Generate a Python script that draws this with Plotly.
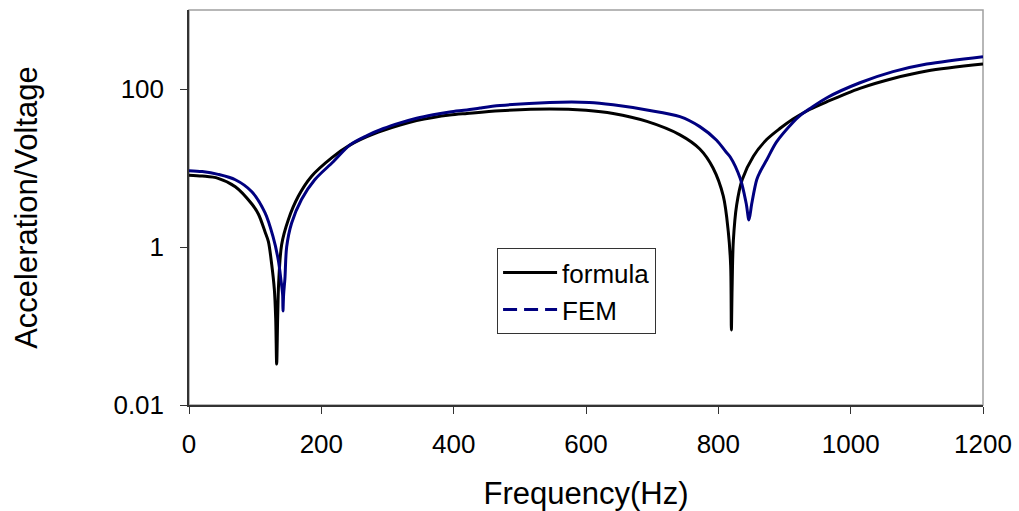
import plotly.graph_objects as go

# Frequency response: acceleration per unit voltage (log scale)
formula_freq = [0, 20, 44, 70, 95, 105, 115, 120, 125, 129, 131, 132.5, 134, 135.5,
                140, 150, 165, 185, 216, 243, 269, 294, 319, 344, 369, 394, 420,
                470, 545, 600, 641, 692, 742, 772, 792, 807.5, 815, 818.6, 819.7,
                820.8, 822.7, 827.7, 836, 853, 873, 893, 913, 938, 964, 1014, 1064,
                1115, 1200]
formula_val = [8.1, 7.9, 7.4, 5.8, 3.5, 2.6, 1.55, 1.17, 0.60, 0.29, 0.126, 0.033,
               0.126, 0.35, 1.07, 2.2, 4.35, 7.8, 13.5, 19.5, 25, 30, 35, 39.8, 43.7,
               46.8, 49, 53, 55.8, 53.7, 49, 38.9, 26.3, 17.4, 10, 4.4, 1.58, 0.59,
               0.089, 0.30, 1.2, 3.4, 7.1, 14.1, 22.9, 31.6, 41.7, 55, 69, 102, 136,
               169, 207]

fem_freq = [0, 20, 44, 70, 95, 115, 127, 135, 139, 141.5, 142, 143, 145,
            147.6, 155, 170, 190, 218, 243, 269, 294, 319, 344, 369, 394, 420, 440,
            470, 545, 605, 641, 692, 742, 772, 797, 812, 818, 833, 842, 846.3, 850.4,
            858, 863, 873, 888, 913, 923, 938, 964, 1014, 1064, 1115, 1200]
fem_val = [9.25, 9.0, 8.3, 7.1, 5.0, 2.7, 1.35, 0.68, 0.38, 0.25, 0.155, 0.25,
           0.40, 1.0, 2.0, 4.0, 7.1, 12.0, 19.5, 25.7, 31.6, 37.2, 42.7, 47.3, 51.3,
           54.3, 57.5, 61.7, 67.6, 67.6, 63.1, 54.3, 44.7, 33.4, 22.6, 15.8, 13.8,
           7.4, 3.6, 2.2, 3.5, 7.1, 8.9, 12.6, 21.4, 38.0, 45.7, 56.2, 77.6, 120,
           166, 207, 257]

x_ticks = [0, 200, 400, 600, 800, 1000, 1200]
y_ticks = [0.01, 1, 100]
y_tick_text = ["0.01", "1", "100"]

FONT = "Liberation Sans, Arial, sans-serif"
NAVY = "#000080"

fig = go.Figure()
fig.add_trace(go.Scatter(x=formula_freq, y=formula_val, mode="lines", name="formula",
                         line=dict(color="black", width=3, shape="spline", smoothing=0.9)))
fig.add_trace(go.Scatter(x=fem_freq, y=fem_val, mode="lines", name="FEM", showlegend=False,
                         line=dict(color=NAVY, width=3, shape="spline", smoothing=0.9)))
# legend key for the FEM curve (dashed sample)
fig.add_trace(go.Scatter(x=[None], y=[None], mode="lines", name="FEM",
                         line=dict(color=NAVY, width=3, dash="14px,7px")))

fig.add_shape(type="rect", xref="paper", yref="paper", x0=0, y0=0, x1=1, y1=1,
              line=dict(color="#a0a0a0", width=1.5), layer="below")

fig.update_layout(
    width=1019, height=511,
    margin=dict(l=189, r=36, t=10, b=106),
    paper_bgcolor="white", plot_bgcolor="white",
    font=dict(family=FONT, size=26, color="black"),
    showlegend=True,
    legend=dict(x=0.388, y=0.397, xanchor="left", yanchor="top",
                bordercolor="#333333", borderwidth=1, bgcolor="white",
                font=dict(size=26), tracegroupgap=0, itemwidth=54),
)
fig.update_xaxes(range=[0, 1200], tickvals=x_ticks, ticks="outside", ticklen=7,
                 tickcolor="#333333", showline=True, linecolor="#333333", linewidth=1.5,
                 showgrid=False, zeroline=False, ticklabelstandoff=8, automargin=False,
                 title=dict(text="Frequency(Hz)", standoff=30))
fig.update_yaxes(type="log", range=[-2, 3], tickvals=y_ticks, ticktext=y_tick_text,
                 ticks="outside", ticklen=7, tickcolor="#333333", showline=True,
                 linecolor="#333333", linewidth=1.5, showgrid=False, zeroline=False,
                 ticklabelstandoff=11, automargin=False,
                 title=dict(text="Acceleration/Voltage", standoff=67))

fig.write_html("out.html")
